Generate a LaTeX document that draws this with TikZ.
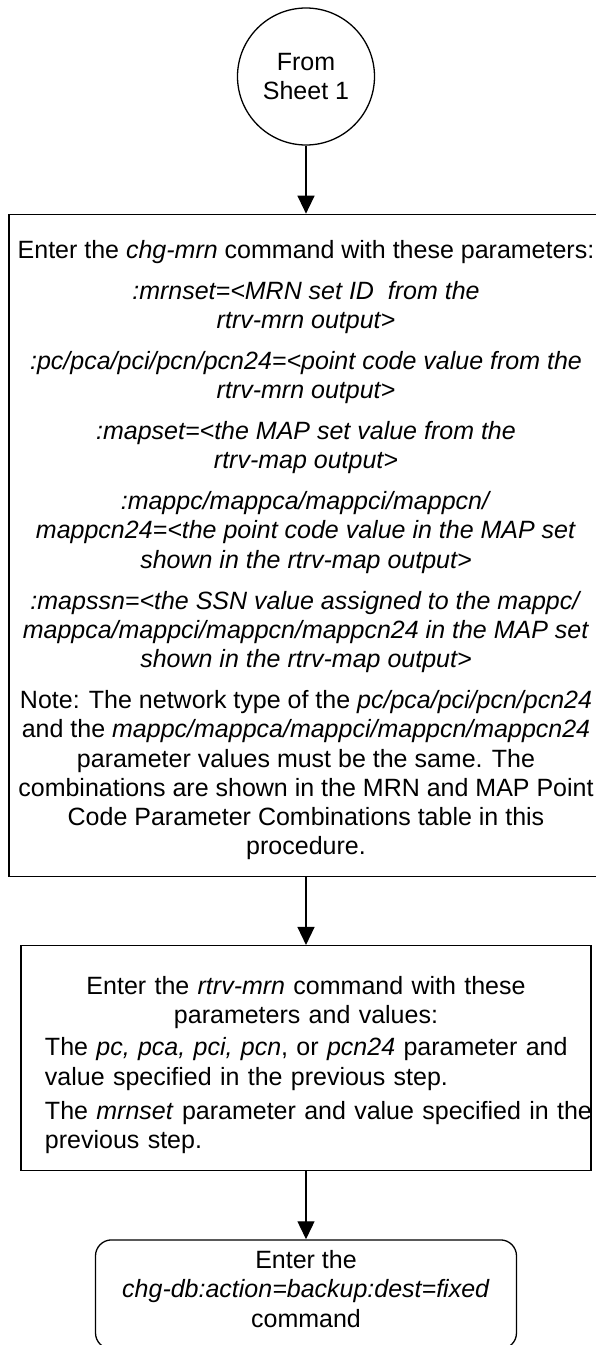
\documentclass[tikz,border=0pt]{standalone}
\usepackage{fontspec}
\setmainfont{Liberation Sans}
\usetikzlibrary{arrows.meta,positioning}
\tikzset{
  offpage/.style={circle, draw, line width=1.3pt, minimum size=137pt, inner sep=0pt, align=center},
  stepbox/.style={draw, line width=1.3pt, align=center, inner sep=5pt},
  endbox/.style={draw, line width=1.3pt, rounded corners=16pt, align=center, inner sep=6pt},
  arrow/.style={-{Triangle[length=18pt, width=17pt]}, line width=1.3pt}
}

\begin{document}
\begin{tikzpicture}[node distance=68pt, font=\fontsize{25}{29.3}\selectfont]
  \useasboundingbox (0,0) rectangle (595pt,-1345pt);
  \node[offpage] (sheet) at (306pt,-76.5pt) {From\\Sheet 1};

  \node[stepbox, below=of sheet, minimum width=594pt, minimum height=662pt] (chgmrn) {\rule{0pt}{28pt}Enter the \textit{chg-mrn} command with these parameters:\\[11.5pt]
    \textit{:mrnset=<MRN set ID~ from the}\\
    \textit{rtrv-mrn output>}\\[11.5pt]
    \textit{:pc/pca/pci/pcn/pcn24=<point code value from the}\\
    \textit{rtrv-mrn output>}\\[11.5pt]
    \textit{:mapset=<the MAP set value from the}\\
    \textit{rtrv-map output>}\\[11.5pt]
    \textit{:mappc/mappca/mappci/mappcn/}\\
    \textit{mappcn24=<the point code value in the MAP set}\\
    \textit{shown in the rtrv-map output>}\\[11.5pt]
    \textit{:mapssn=<the SSN value assigned to the mappc/}\\
    \textit{mappca/mappci/mappcn/mappcn24 in the MAP set}\\
    \textit{shown in the rtrv-map output>}\\[11.5pt]
    Note: The network type of the \textit{pc/pca/pci/pcn/pcn24}\\
    and the \textit{mappc/mappca/mappci/mappcn/mappcn24}\\
    parameter values must be the same. The\\
    combinations are shown in the MRN and MAP Point\\
    Code Parameter Combinations table in this\\
    procedure.};

  \node[stepbox, below=of chgmrn, minimum width=570pt, minimum height=225pt, text width=522pt, align=left] (rtrvmrn) {{\centering\rule{0pt}{32pt}Enter the \textit{rtrv-mrn} command with these\\
    parameters and values:\par}\vspace{3pt}
    \mbox{The \textit{pc, pca, pci, pcn}, or \textit{pcn24} parameter and}\\
    value specified in the previous step.\par\vspace{5pt}
    \mbox{The \textit{mrnset} parameter and value specified in the}\\
    previous step.};

  \node[endbox, below=of rtrvmrn, minimum width=421pt, minimum height=109pt, text depth=11pt] (backup) {Enter the\\\textit{chg-db:action=backup:dest=fixed}\\command};

  \draw[arrow] (sheet) -- (chgmrn);
  \draw[arrow] (chgmrn) -- (rtrvmrn);
  \draw[arrow] (rtrvmrn) -- (backup);
\end{tikzpicture}
\end{document}
